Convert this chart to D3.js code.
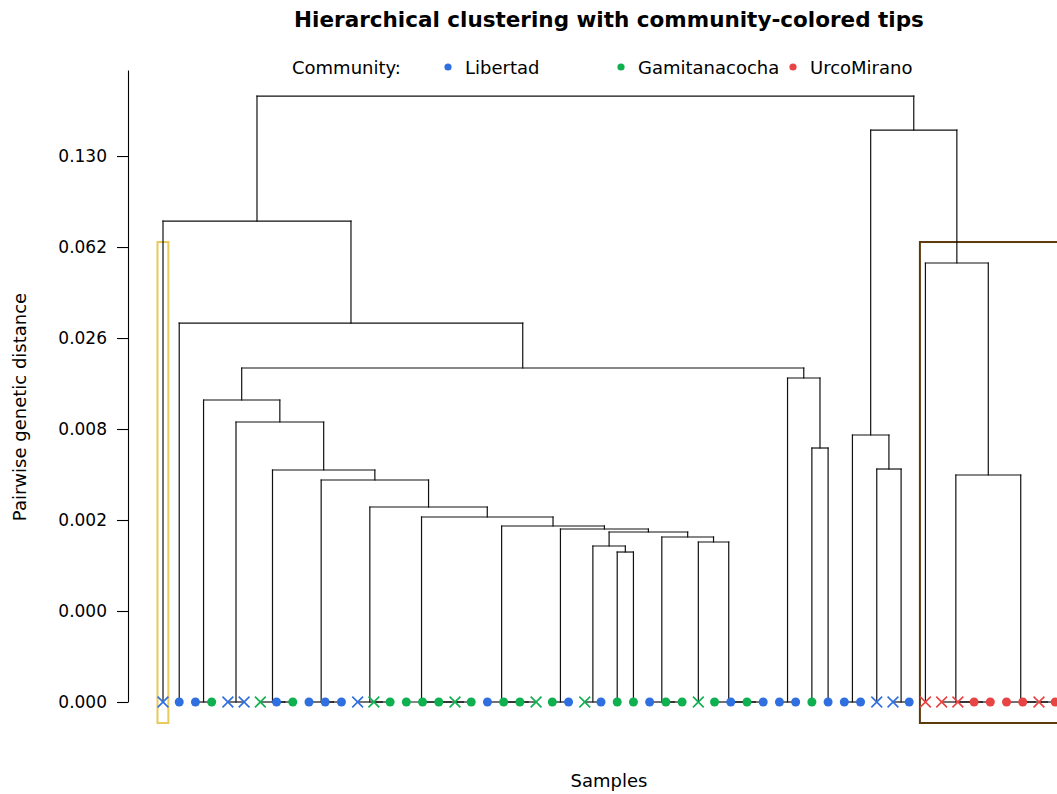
<!DOCTYPE html>
<html>
<head>
<meta charset="utf-8">
<script src="https://cdn.jsdelivr.net/npm/d3@7"></script>
<style>
  html, body { margin: 0; padding: 0; background: #fff; }
  svg { display: block; font-family: "DejaVu Sans", sans-serif; }
</style>
</head>
<body>
<svg id="chart" width="1057" height="794"></svg>
<script>
// ---------------- DATA ----------------
const communities = ["Libertad", "Gamitanacocha", "UrcoMirano"];
const communityColors = ["#2f6fe0", "#0fb04f", "#e84444"];

// tip community per sample (left to right), L = Libertad, G = Gamitanacocha, U = UrcoMirano
const tipCommunity = [
  "L","L","L","G","L","L","G","L","G","L",
  "L","L","L","G","G","G","G","G","G","G",
  "L","G","G","G","G","L","G","L","G","G",
  "L","G","G","G","G","L","G","L","L","L",
  "G","L","L","L","L","L","L","U","U","U",
  "U","U","U","U","U","U"
];
// tip marker: "x" or "o"
const tipShape = [
  "x","o","o","o","x","x","x","o","o","o",
  "o","o","x","x","o","o","o","o","x","o",
  "o","o","o","x","o","o","x","o","o","o",
  "o","o","o","x","o","o","o","o","o","o",
  "o","o","o","o","x","x","o","x","x","x",
  "o","o","o","o","x","o"
];

// merges: [left, right, height]; negative = tip (1-based), positive = earlier merge (1-based)
const merges = [
  [-3, -4, 0],            // 1
  [-5, -6, 0],            // 2
  [-8, -9, 0],            // 3
  [-7, 3, 0],             // 4
  [-11, -12, 0],          // 5
  [-10, 5, 0],            // 6
  [-14, -15, 0],          // 7
  [-13, 7, 0],            // 8
  [-19, -20, 0],          // 9
  [-18, 9, 0],            // 10
  [-17, 10, 0],           // 11
  [-16, 11, 0],           // 12
  [-23, -24, 0],          // 13
  [-22, 13, 0],           // 14
  [-21, 14, 0],           // 15
  [-25, -26, 0],          // 16
  [-27, -28, 0],          // 17
  [-32, -33, 0],          // 18
  [-31, 18, 0],           // 19
  [-37, -38, 0],          // 20
  [-36, 20, 0],           // 21
  [-35, 21, 0],           // 22
  [-39, -40, 0],          // 23
  [-43, -44, 0],          // 24
  [-46, -47, 0],          // 25
  [-51, -52, 0],          // 26
  [-50, 26, 0],           // 27
  [-49, 27, 0],           // 28
  [-55, -56, 0],          // 29
  [-54, 29, 0],           // 30
  [-53, 30, 0],           // 31
  [-29, -30, 0.000738],   // 32
  [17, 32, 0.000864],     // 33
  [-34, 22, 0.000956],    // 34
  [19, 34, 0.001081],     // 35
  [33, 35, 0.001218],     // 36
  [16, 36, 0.001306],     // 37
  [15, 37, 0.001399],     // 38
  [12, 38, 0.001708],     // 39
  [8, 39, 0.002109],      // 40
  [6, 40, 0.003542],      // 41
  [4, 41, 0.004225],      // 42
  [2, 42, 0.008963],      // 43
  [1, 43, 0.01213],       // 44
  [-41, -42, 0.00607],    // 45
  [23, 45, 0.016069],     // 46
  [44, 46, 0.018147],     // 47
  [-2, 47, 0.030086],     // 48
  [-1, 48, 0.078056],     // 49
  [-45, 25, 0.004298],    // 50
  [24, 50, 0.007411],     // 51
  [28, 31, 0.003872],     // 52
  [-48, 52, 0.054163],    // 53
  [51, 53, 0.156107],     // 54
  [49, 54, 0.196656]      // 55
];

// cluster boxes (tip ranges, 1-based) and colours
const boxFrom = [1, 48];
const boxTo = [1, 56];
const boxColors = ["#e8c95a", "#5c3a0c"];
const boxCutMerges = [49, 53]; // box top = midpoint (in transformed scale) of these merge heights

const yTickValues = [0, 0.0001, 0.0016, 0.0081, 0.0256, 0.0625, 0.1296];
const yTickLabels = ["0.000", "0.000", "0.002", "0.008", "0.026", "0.062", "0.130"];

// ---------------- CHART ----------------
const svg = d3.select("#chart");
const nTips = tipCommunity.length;

const x = d3.scaleLinear().domain([1, nTips]).range([163, 1055.2]);
const y = d3.scalePow().exponent(0.25).domain([0, 0.2327]).range([702, 70]);
const colorOf = c => communityColors[{L:0, G:1, U:2}[c]];

// compute node positions
const nodeX = [], nodeH = [];
function childX(c) { return c < 0 ? x(-c) : nodeX[c - 1]; }
function childH(c) { return c < 0 ? 0 : nodeH[c - 1]; }
merges.forEach((m, i) => {
  nodeX[i] = (childX(m[0]) + childX(m[1])) / 2;
  nodeH[i] = m[2];
});

// boxes
const t = d => Math.pow(d, 0.25);
const boxTopVal = Math.pow((t(nodeH[boxCutMerges[0] - 1]) + t(nodeH[boxCutMerges[1] - 1])) / 2, 4);
const spacing = x(2) - x(1);
const boxG = svg.append("g");
boxFrom.forEach((f, i) => {
  const x0 = x(f) - 0.34 * spacing, x1 = x(boxTo[i]) + 0.33 * spacing;
  boxG.append("rect")
    .attr("x", x0).attr("y", y(boxTopVal))
    .attr("width", x1 - x0).attr("height", 723 - y(boxTopVal))
    .attr("fill", "none").attr("stroke", boxColors[i]).attr("stroke-width", 2);
});

// dendrogram segments
const segs = [];
merges.forEach((m, i) => {
  const yh = y(nodeH[i]);
  const xl = childX(m[0]), xr = childX(m[1]);
  segs.push([xl, yh, xr, yh]);
  segs.push([xl, yh, xl, y(childH(m[0]))]);
  segs.push([xr, yh, xr, y(childH(m[1]))]);
});
svg.append("g").selectAll("line").data(segs).join("line")
  .attr("x1", d => d[0]).attr("y1", d => d[1])
  .attr("x2", d => d[2]).attr("y2", d => d[3])
  .attr("stroke", "#111").attr("stroke-width", 1.2)
  .attr("stroke-linecap", "square");

// tips
const tips = svg.append("g");
tipCommunity.forEach((c, i) => {
  const cx = x(i + 1), cy = y(0), col = colorOf(c);
  if (tipShape[i] === "o") {
    tips.append("circle").attr("cx", cx).attr("cy", cy).attr("r", 4.5).attr("fill", col);
  } else {
    const s = 5.4;
    tips.append("path")
      .attr("d", `M${cx - s},${cy - s}L${cx + s},${cy + s}M${cx - s},${cy + s}L${cx + s},${cy - s}`)
      .attr("stroke", col).attr("stroke-width", 1.6).attr("fill", "none");
  }
});

// y axis
const yAxis = d3.axisLeft(y).tickValues(yTickValues)
  .tickFormat((d, i) => yTickLabels[i]).tickSize(11).tickPadding(10).tickSizeOuter(0);
const gy = svg.append("g").attr("transform", "translate(128,0)").call(yAxis);
gy.select(".domain").attr("stroke", "#000").attr("stroke-width", 1.1);
gy.selectAll(".tick line").attr("stroke", "#000").attr("stroke-width", 1.1);
gy.selectAll(".tick text").attr("font-size", 17).attr("fill", "#000")
  .attr("font-family", "DejaVu Sans, sans-serif");

// titles
svg.append("text").attr("x", 609).attr("y", 27).attr("text-anchor", "middle")
  .attr("font-weight", "bold").attr("font-size", 21.5).text("Hierarchical clustering with community-colored tips");
svg.append("text").attr("x", 609).attr("y", 787).attr("text-anchor", "middle")
  .attr("font-size", 18).text("Samples");
svg.append("text").attr("transform", "translate(26,407) rotate(-90)").attr("text-anchor", "middle")
  .attr("font-size", 18).text("Pairwise genetic distance");

// legend
const leg = svg.append("g").attr("font-size", 18);
leg.append("text").attr("x", 292).attr("y", 74).text("Community:");
const legX = [448, 621, 793];
communities.forEach((name, i) => {
  leg.append("circle").attr("cx", legX[i]).attr("cy", 67).attr("r", 3.6).attr("fill", communityColors[i]);
  leg.append("text").attr("x", legX[i] + 17).attr("y", 74).text(name);
});
</script>
</body>
</html>
